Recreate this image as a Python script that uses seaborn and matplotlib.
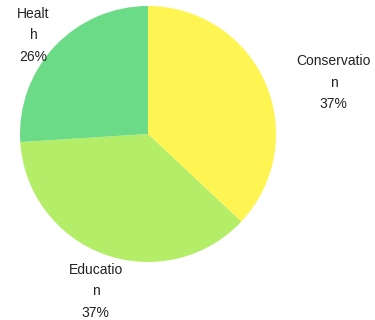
import matplotlib
matplotlib.use("Agg")
import matplotlib.pyplot as plt
import seaborn as sns

# Share of funding by cause
categories = ["Conservation", "Education", "Health"]
shares = [37, 37, 26]
wrapped_labels = ["Conservatio\nn", "Educatio\nn", "Healt\nh"]
colors = ["#fff552", "#b4ed68", "#6cdb88"]

# label centres in units of the pie radius
label_pos = [(1.45, 0.40), (-0.41, -1.23), (-0.895, 0.77)]

sns.set_theme(style="white")
plt.rcParams["font.family"] = ["Liberation Sans", "DejaVu Sans"]

fig = plt.figure(figsize=(3.75, 3.2), dpi=100)
ax = fig.add_axes([20 / 375, 58 / 320, 256 / 375, 256 / 320])

wedges, _ = ax.pie(
    shares,
    colors=colors,
    startangle=90,
    counterclock=False,
    radius=1.0,
    wedgeprops=dict(linewidth=0),
)

for text, val, (x, y) in zip(wrapped_labels, shares, label_pos):
    ax.text(x, y, f"{text}\n{val}%", ha="center", va="center",
            multialignment="center", fontsize=10, color="#222222",
            linespacing=1.68, clip_on=False)

ax.set_xlim(-1, 1)
ax.set_ylim(-1, 1)
ax.set_aspect("equal")
ax.axis("off")

fig.savefig("out.png", dpi=100)
